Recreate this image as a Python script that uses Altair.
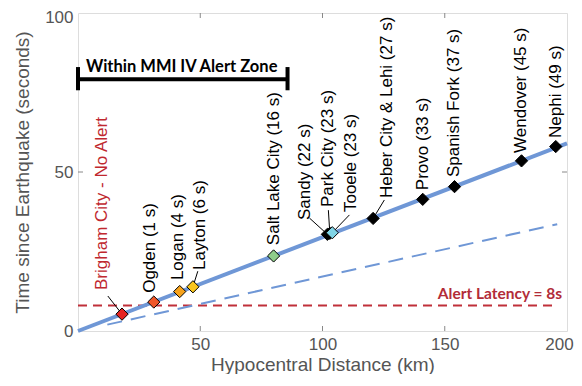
import altair as alt
import pandas as pd

# ---- data ----
cities = ["Brigham City - No Alert", "Ogden (1 s)", "Logan (4 s)", "Layton (6 s)",
          "Salt Lake City (16 s)", "Sandy (22 s)", "Park City (23 s)", "Tooele (23 s)",
          "Heber City & Lehi (27 s)", "Provo (33 s)", "Spanish Fork (37 s)",
          "Wendover (45 s)", "Nephi (49 s)"]
dist = [18, 31, 41.6, 47, 80, 102, 103, 104, 120.7, 141, 154, 181.4, 195.4]
arrival = [5.3, 9.1, 12.4, 13.9, 23.6, 30.4, 30.7, 30.9, 35.4, 41.4, 45.4, 53.5, 58]
fills = ["#e52421", "#ef5628", "#f5a21d", "#f8c51e", "#8fcd8b", "#000000", "#000000",
         "#80d4e6", "#000000", "#000000", "#000000", "#000000", "#000000"]
label_x = [9.7, 29.4, 40.8, 49.8, 80, 92.7, 102.4, 111.8, 126.5, 141.2, 153.9, 181.2, 195.5]
label_y = [12.9, 12.0, 16.0, 19.2, 27.0, 34.9, 39.0, 37.4, 41.8, 44.3, 48.4, 56.0, 60.7]
label_colors = ["#c0282f"] + ["#000000"] * 12

# leader lines: (from marker) -> (to label)
leader_x = [18, 47, 102, 103, 104, 120.7]
leader_y = [5.3, 13.9, 30.4, 30.7, 30.9, 35.4]
leader_x2 = [12.2, 49.0, 94.7, 102.4, 111.0, 125.3]
leader_y2 = [11.0, 18.8, 35.5, 38.0, 36.5, 41.2]

s_line_x = [0, 200]
s_line_y = [0, 59]
p_line_x = [12, 196]
p_line_y = [2.0, 33.6]
latency_x = [0, 196]
latency_y = [8, 8]

zone_x = [0, 85.7]
zone_y = 79.2
zone_cap_y = [75.7, 83.0]

x_tick_vals = [50, 100, 150]
y_tick_vals = [50]

W, H = 489, 318
BLUE = "#6f97d6"
RED = "#c0303a"
FONT = "Liberation Sans"

xs = alt.Scale(domain=[0, 200], nice=False, zero=False)
ys = alt.Scale(domain=[0, 100], nice=False, zero=False)

x_axis = alt.Axis(values=[50, 100, 150, 200], title="Hypocentral Distance (km)",
                  ticks=False, domain=False, grid=False, labelFlush=False,
                  labelPadding=5, labelFontSize=17, labelColor="#555555",
                  labelOffset={"condition": {"test": "datum.value == 200", "value": -8},
                               "value": 0},
                  titleFontSize=19, titleColor="#555555", titleFontWeight="normal",
                  titlePadding=3, labelFont=FONT, titleFont=FONT)
y_axis = alt.Axis(values=[0, 50, 100], title="Time since Earthquake (seconds)",
                  ticks=False, domain=False, grid=False, labelFlush=False,
                  labelPadding=5, labelFontSize=17, labelColor="#555555",
                  labelOffset={"condition": {"test": "datum.value == 100", "value": 4},
                               "value": 0},
                  titleFontSize=19, titleColor="#555555", titleFontWeight="normal",
                  titlePadding=12, labelFont=FONT, titleFont=FONT)

latency_df = pd.DataFrame({"x": latency_x, "y": latency_y})
latency = alt.Chart(latency_df).mark_line(color=RED, strokeWidth=2, strokeDash=[9, 6]).encode(
    x=alt.X("x:Q", scale=xs, axis=x_axis),
    y=alt.Y("y:Q", scale=ys, axis=y_axis),
)

p_df = pd.DataFrame({"x": p_line_x, "y": p_line_y})
p_line = alt.Chart(p_df).mark_line(color=BLUE, strokeWidth=2, strokeDash=[15, 9]).encode(
    x="x:Q", y="y:Q")

s_df = pd.DataFrame({"x": s_line_x, "y": s_line_y})
s_line = alt.Chart(s_df).mark_line(color=BLUE, strokeWidth=4).encode(x="x:Q", y="y:Q")

lead_df = pd.DataFrame({"x": leader_x, "y": leader_y, "x2": leader_x2, "y2": leader_y2})
leaders = alt.Chart(lead_df).mark_rule(color="#000000", strokeWidth=1).encode(
    x="x:Q", y="y:Q", x2="x2:Q", y2="y2:Q")

pts_df = pd.DataFrame({"x": dist, "y": arrival, "fill": fills, "city": cities})
points = alt.Chart(pts_df).mark_point(shape="diamond", filled=True, size=150,
                                       stroke="#000000", strokeWidth=1, opacity=1).encode(
    x="x:Q", y="y:Q", fill=alt.Fill("fill:N", scale=None))

lab_df = pd.DataFrame({"x": label_x, "y": label_y, "city": cities, "c": label_colors})
labels = alt.Chart(lab_df).mark_text(angle=270, align="left", baseline="middle",
                                      fontSize=17, font=FONT).encode(
    x="x:Q", y="y:Q", text="city:N", color=alt.Color("c:N", scale=None))

zone_df = pd.DataFrame({"x": [zone_x[0]], "x2": [zone_x[1]], "y": [zone_y]})
zone_bar = alt.Chart(zone_df).mark_rule(color="#000000", strokeWidth=4).encode(
    x="x:Q", x2="x2:Q", y="y:Q")
cap_df = pd.DataFrame({"x": zone_x, "y": [zone_cap_y[0]] * 2, "y2": [zone_cap_y[1]] * 2})
zone_caps = alt.Chart(cap_df).mark_rule(color="#000000", strokeWidth=4).encode(
    x="x:Q", y="y:Q", y2="y2:Q")

zone_txt_df = pd.DataFrame({"x": [42.4], "y": [81.4], "t": ["Within MMI IV Alert Zone"]})
zone_txt = alt.Chart(zone_txt_df).mark_text(align="center", baseline="alphabetic",
                                             fontSize=16.5, fontWeight="bold", font="Lato",
                                             color="#000000").encode(
    x="x:Q", y="y:Q", text="t:N")

lat_txt_df = pd.DataFrame({"x": [198], "y": [10.1], "t": ["Alert Latency = 8s"]})
lat_txt = alt.Chart(lat_txt_df).mark_text(align="right", baseline="alphabetic",
                                           fontSize=15.5, fontWeight="bold", font="Lato",
                                           color="#b22c38").encode(
    x="x:Q", y="y:Q", text="t:N")

xt_df = pd.DataFrame({"x": x_tick_vals})
xt_bottom = alt.Chart(xt_df).mark_rule(color="#888888", strokeWidth=1).encode(
    x="x:Q", y=alt.value(H), y2=alt.value(H - 5))
xt_top = alt.Chart(xt_df).mark_rule(color="#888888", strokeWidth=1).encode(
    x="x:Q", y=alt.value(0), y2=alt.value(5))
yt_df = pd.DataFrame({"y": y_tick_vals})
yt_left = alt.Chart(yt_df).mark_rule(color="#888888", strokeWidth=1).encode(
    y="y:Q", x=alt.value(0), x2=alt.value(5))
yt_right = alt.Chart(yt_df).mark_rule(color="#888888", strokeWidth=1).encode(
    y="y:Q", x=alt.value(W), x2=alt.value(W - 5))

chart = alt.layer(
    latency, p_line, s_line, leaders, points, labels,
    zone_bar, zone_caps, zone_txt, lat_txt,
    xt_bottom, xt_top, yt_left, yt_right,
).properties(
    width=W, height=H,
    autosize=alt.AutoSizeParams(type="none"),
    padding={"left": 70, "top": 5, "right": 7, "bottom": 43},
).configure_view(stroke="#888888", strokeWidth=1).configure(background="white")

chart.save("out.html", embed_options={"renderer": "svg", "actions": False})
